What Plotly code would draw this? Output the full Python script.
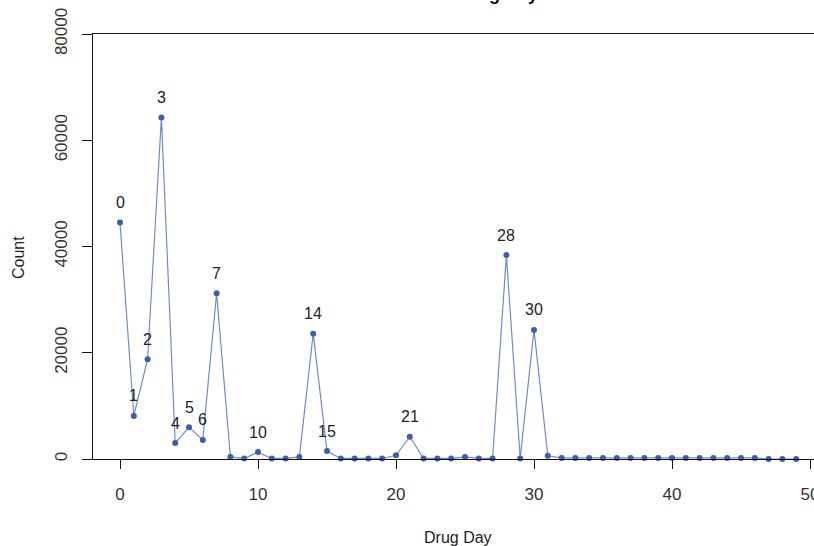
import plotly.graph_objects as go

days = list(range(0, 50))
counts = [44500, 8100, 18800, 64300, 3000, 6000, 3600, 31200, 400, 100,
          1300, 100, 100, 400, 23600, 1500, 100, 100, 100, 100,
          700, 4200, 100, 100, 100, 400, 100, 100, 38400, 100,
          24300, 600, 200, 200, 200, 200, 200, 200, 200, 200,
          200, 200, 200, 200, 200, 200, 200, 0, 0, 0]
labeled_days = [0, 1, 2, 3, 4, 5, 6, 7, 10, 14, 15, 21, 28, 30]
x_ticks = [0, 10, 20, 30, 40, 50]
y_ticks = [0, 20000, 40000, 60000, 80000]

FONT = "Liberation Sans"
W, H = 814, 546
L, T, B = 93, 34, 87
px_per_unit = 13.8
x0_px = 120
x_lo = (L - x0_px) / px_per_unit
x_hi = (W - x0_px) / px_per_unit

fig = go.Figure()
fig.add_trace(go.Scatter(
    x=days, y=counts, mode="lines+markers",
    line=dict(color="#6f8cc9", width=1.2),
    marker=dict(color="#3d5db5", size=6),
    hoverinfo="x+y", showlegend=False, cliponaxis=False,
))

annotations = []
for d in labeled_days:
    annotations.append(dict(
        x=d, y=counts[d], xref="x", yref="y", text=str(d),
        showarrow=False, yshift=20, yanchor="middle", xanchor="center",
        font=dict(family=FONT, size=16, color="#222222"),
    ))
annotations.append(dict(
    x=(458 - L) / (W - L), y=0, xref="paper", yref="paper",
    text="Drug Day", showarrow=False, yanchor="middle", yshift=-(537 - (H - B)),
    font=dict(family=FONT, size=16, color="#222222"),
))
annotations.append(dict(
    x=-(L - 18) / (W - L), y=(459 - 258) / (459 - T), xref="paper", yref="paper",
    text="Count", showarrow=False, textangle=-90, xanchor="center", yanchor="middle",
    font=dict(family=FONT, size=16, color="#222222"),
))
annotations.append(dict(
    x=(458 - L) / (W - L), y=1, xref="paper", yref="paper",
    text="<b>Count of Drug Day</b>", showarrow=False, yanchor="bottom",
    yshift=T - 6, font=dict(family=FONT, size=18, color="#111111"),
))

fig.update_layout(
    width=W, height=H,
    margin=dict(l=L, r=0, t=T, b=B, pad=0, autoexpand=False),
    plot_bgcolor="white", paper_bgcolor="white",
    annotations=annotations,
    xaxis=dict(
        range=[x_lo, x_hi], tickvals=x_ticks, ticktext=[str(v) for v in x_ticks],
        showgrid=False, zeroline=False, showline=True, linecolor="#111111",
        linewidth=1.3, mirror=True, ticks="outside", ticklen=9, tickcolor="#111111",
        tickfont=dict(family=FONT, size=17, color="#333333"), ticklabelstandoff=10,
        ticklabeloverflow="allow", automargin=False,
    ),
    yaxis=dict(
        range=[0, 80000], tickvals=y_ticks, ticktext=[str(v) for v in y_ticks],
        showgrid=False, zeroline=False, showline=True, linecolor="#111111",
        linewidth=1.3, ticks="outside", ticklen=10, tickcolor="#111111",
        tickangle=-90, tickfont=dict(family=FONT, size=17, color="#333333"),
        ticklabelstandoff=8, automargin=False,
    ),
)

fig.write_html("out.html")
